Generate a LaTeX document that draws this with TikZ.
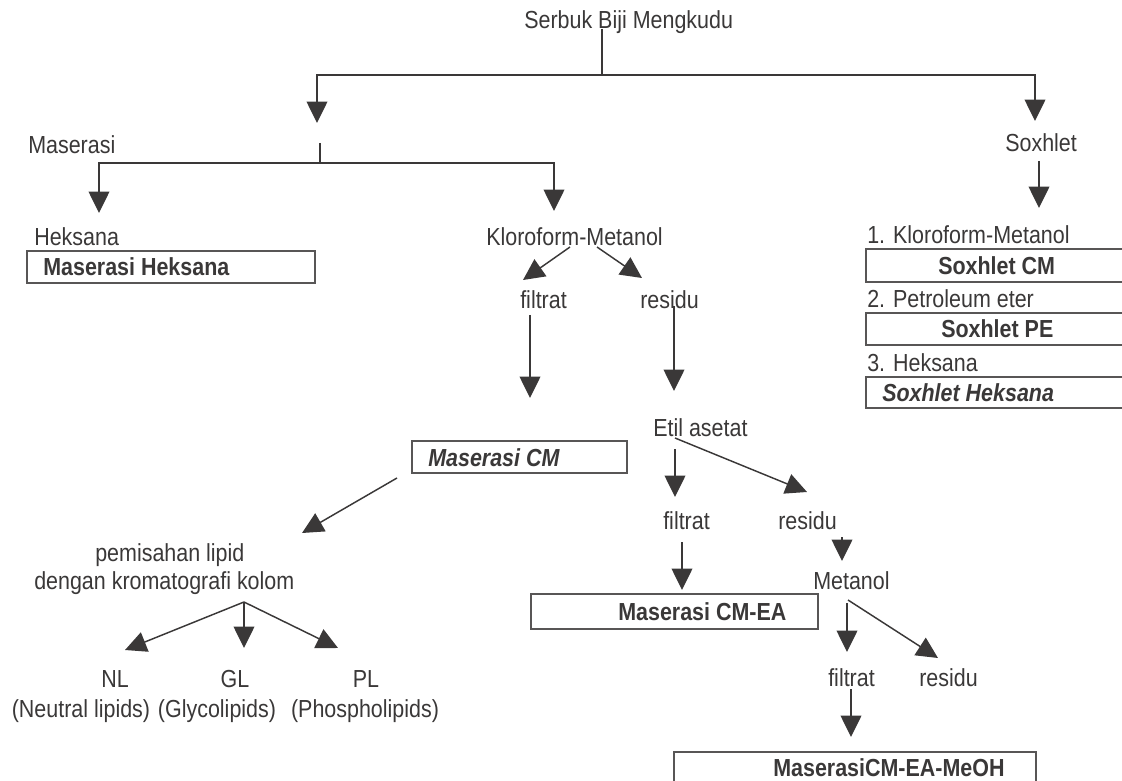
\documentclass[tikz,border=0pt]{standalone}
\usepackage{fontspec}
\setmainfont{Liberation Sans}[FakeStretch=0.87]
\usepackage{tikz}
\usetikzlibrary{arrows.meta}
\definecolor{ink}{RGB}{58,56,56}

\begin{document}
\begin{tikzpicture}[x=0.75pt,y=-0.75pt,
    every node/.style={font=\fontsize{18.5}{22}\selectfont, text=ink, inner sep=0pt},
    lbl/.style={anchor=base west},
    ctr/.style={anchor=base},
    hasil/.style={anchor=base west, font=\fontsize{18.5}{22}\selectfont\bfseries},
    hasilit/.style={anchor=base west, font=\fontsize{18.5}{22}\selectfont\bfseries\itshape},
    kotak/.style={draw=ink!85, line width=0.8pt},
    garis/.style={draw=ink, line width=1.1pt},
    panah/.style={garis, -{Triangle[length=16pt,width=15.5pt]}}]
        \useasboundingbox (0,0) rectangle (1122,781);
        \clip (0,0) rectangle (1122,781);
        % Judul
            \node[lbl] (serbuk) at (524,29) {Serbuk Biji Mengkudu};
        % Cabang utama
            \node[lbl] (maserasi) at (28,154) {Maserasi};
            \node[lbl] (soxhlet) at (1005,152) {Soxhlet};
        % Maserasi
            \node[lbl] (heksana) at (34,246) {Heksana};
            \node[lbl] (klomet) at (486,246) {Kloroform-Metanol};
            \node[kotak, minimum width=216pt, minimum height=24pt] (boxMH) at (171,267) {};
            \node[hasil] (txtMH) at (43,276) {Maserasi Heksana};
            \node[lbl] (filtA) at (520,309) {filtrat};
            \node[lbl] (resA) at (640,309) {residu};
            \node[kotak, minimum width=161.25pt, minimum height=24pt] (boxCM) at (519.5,457) {};
            \node[hasilit] (txtCM) at (428,466) {Maserasi CM};
            \node[lbl] (etil) at (653,436) {Etil asetat};
            \node[lbl] (filtB) at (663,529) {filtrat};
            \node[lbl] (resB) at (778,529) {residu};
            \node[kotak, minimum width=215.25pt, minimum height=26.25pt] (boxEA) at (674.5,611.5) {};
            \node[hasil] (txtEA) at (618,620.5) {Maserasi CM-EA};
            \node[lbl] (metanol) at (813,589) {Metanol};
            \node[lbl] (filtC) at (828,686) {filtrat};
            \node[lbl] (resC) at (919,686) {residu};
            \node[kotak, minimum width=271.5pt, minimum height=36pt] (boxMeOH) at (855,776) {};
            \node[hasil] (txtMeOH) at (773,776) {MaserasiCM-EA-MeOH};
        % Kromatografi kolom
            \node[lbl] (pisah) at (95,561) {pemisahan lipid};
            \node[lbl] (kolom) at (34,589) {dengan kromatografi kolom};
            \node[ctr] (nl) at (115,687) {NL};
            \node[ctr] (gl) at (235,687) {GL};
            \node[ctr] (pl) at (366,687) {PL};
            \node[ctr] (nlx) at (81,717) {(Neutral lipids)};
            \node[ctr] (glx) at (217,717) {(Glycolipids)};
            \node[ctr] (plx) at (365,717) {(Phospholipids)};
        % Soxhlet
            \node[lbl] (soxA) at (867,244) {1. Kloroform-Metanol};
            \node[kotak, minimum width=198pt, minimum height=24.75pt] (boxSA) at (998,265.5) {};
            \node[hasil] (txtSA) at (938,274.5) {Soxhlet CM};
            \node[lbl] (soxB) at (867,307) {2. Petroleum eter};
            \node[kotak, minimum width=198pt, minimum height=24pt] (boxSB) at (998,329) {};
            \node[hasil] (txtSB) at (941,338) {Soxhlet PE};
            \node[lbl] (soxC) at (867,371) {3. Heksana};
            \node[kotak, minimum width=198pt, minimum height=23.25pt] (boxSC) at (998,392.5) {};
            \node[hasilit] (txtSC) at (882,401.5) {Soxhlet Heksana};
        % Titik panah
            \coordinate (sb0) at (602,29);
            \coordinate (sb1) at (602,75);
            \coordinate (tMas) at (317,123);
            \coordinate (tSox) at (1035,121);
            \coordinate (ms0) at (320,143);
            \coordinate (ms1) at (320,163);
            \coordinate (tHek) at (99,213);
            \coordinate (tKM) at (554,211);
            \coordinate (sx0) at (1039,161);
            \coordinate (sx1) at (1039,208);
            \coordinate (km0) at (570,247);
            \coordinate (km1) at (523,280);
            \coordinate (km2) at (597,247);
            \coordinate (km3) at (642,278);
            \coordinate (fa0) at (530,315);
            \coordinate (fa1) at (530,398);
            \coordinate (ra0) at (674,306);
            \coordinate (ra1) at (674,391);
            \coordinate (ea0) at (675,449);
            \coordinate (ea1) at (675,497);
            \coordinate (ea2) at (675,438);
            \coordinate (ea3) at (807,492);
            \coordinate (fb0) at (682,542);
            \coordinate (fb1) at (682,590);
            \coordinate (rb0) at (842,537);
            \coordinate (rb1) at (842,561);
            \coordinate (me0) at (847,603);
            \coordinate (me1) at (847,652);
            \coordinate (me2) at (848,600);
            \coordinate (me3) at (938,658);
            \coordinate (fc0) at (851,689);
            \coordinate (fc1) at (851,737);
            \coordinate (cm0) at (397,478);
            \coordinate (cm1) at (302,533);
            \coordinate (kl0) at (244,602);
            \coordinate (kl1) at (125,650);
            \coordinate (kl2) at (244,648);
            \coordinate (kl3) at (338,648);
        % Panah
            \draw[garis] (sb0) -- (sb1);
            \draw[panah] (sb1) -| (tMas);
            \draw[panah] (sb1) -| (tSox);
            \draw[garis] (ms0) -- (ms1);
            \draw[panah] (ms1) -| (tHek);
            \draw[panah] (ms1) -| (tKM);
            \draw[panah] (sx0) -- (sx1);
            \draw[panah] (km0) -- (km1);
            \draw[panah] (km2) -- (km3);
            \draw[panah] (fa0) -- (fa1);
            \draw[panah] (ra0) -- (ra1);
            \draw[panah] (ea0) -- (ea1);
            \draw[panah] (ea2) -- (ea3);
            \draw[panah] (fb0) -- (fb1);
            \draw[panah] (rb0) -- (rb1);
            \draw[panah] (me0) -- (me1);
            \draw[panah] (me2) -- (me3);
            \draw[panah] (fc0) -- (fc1);
            \draw[panah] (cm0) -- (cm1);
            \draw[panah] (kl0) -- (kl1);
            \draw[panah] (kl0) -- (kl2);
            \draw[panah] (kl0) -- (kl3);
\end{tikzpicture}
\end{document}
